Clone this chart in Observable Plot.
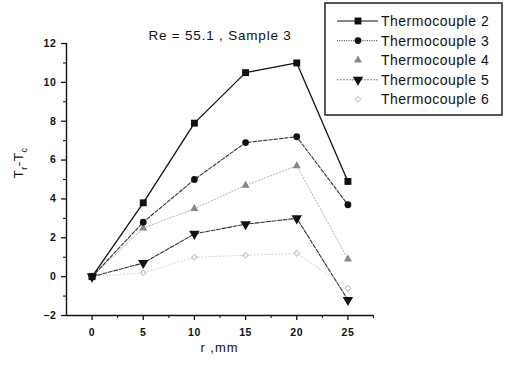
<!DOCTYPE html>
<html><head><meta charset="utf-8">
<script src="https://cdn.jsdelivr.net/npm/d3@7"></script>
<script src="https://cdn.jsdelivr.net/npm/@observablehq/plot@0.6"></script>
<style>
body{margin:0;background:#fff}
#wrap{position:relative;width:506px;height:366px;font-family:"Liberation Sans",Arial,sans-serif;color:#111}
.lbl{position:absolute;white-space:nowrap}
</style>
</head><body><div id="wrap"></div>
<script>
// ---- data ----
const radius = [0, 5, 10, 15, 20, 25];
const tc2 = [0, 3.8, 7.9, 10.5, 11.0, 4.9];
const tc3 = [0, 2.8, 5.0, 6.9, 7.2, 3.7];
const tc4 = [0, 2.5, 3.5, 4.7, 5.7, 0.9];
const tc5 = [0, 0.7, 2.2, 2.7, 3.0, -1.2];
const tc6 = [0, 0.2, 1.0, 1.1, 1.2, -0.6];
const seriesNames = ["Thermocouple 2", "Thermocouple 3", "Thermocouple 4", "Thermocouple 5", "Thermocouple 6"];
const seriesValues = [tc2, tc3, tc4, tc5, tc6];
const xTicks = [0, 5, 10, 15, 20, 25];
const xMinorTicks = [2.5, 7.5, 12.5, 17.5, 22.5, 27.5];
const yTicks = [-2, 0, 2, 4, 6, 8, 10, 12];
const yMinorTicks = [-1, 1, 3, 5, 7, 9, 11];
const titleText = "Re = 55.1 , Sample 3";
const xLabelText = "r ,mm";

// ---- styles ----
const styles = [
  {line: "#111", dash: null, lw: 1.3, symbol: "square", fill: "#111", stroke: "none", r: 3.9, rotate: 0,
   legLine: "#111", legDash: null},
  {line: "#333", dash: "3.5,1.8", lw: 1.1, symbol: "circle", fill: "#111", stroke: "none", r: 3.4, rotate: 0,
   legLine: "#555", legDash: "1,1.3"},
  {line: "#b0b0b0", dash: "1.2,2", lw: 1, symbol: "triangle", fill: "#888", stroke: "none", r: 3.0, rotate: 0,
   legLine: null, legDash: null},
  {line: "#333", dash: "4,1.6", lw: 1.1, symbol: "triangle", fill: "#111", stroke: "none", r: 3.9, rotate: 180,
   legLine: "#888", legDash: "2,1"},
  {line: "#d0d0d0", dash: "1,2.5", lw: 1, symbol: "diamond2", fill: "none", stroke: "#aaa", r: 2.6, rotate: 0,
   legLine: null, legDash: null}
];

const rows = [];
seriesValues.forEach((vals, i) => vals.forEach((v, j) => rows.push({series: seriesNames[i], idx: i, r: radius[j], v})));

const marks = [
  Plot.ruleX([-2.5], {y1: -2, y2: 12, stroke: "#111", strokeWidth: 1.4}),
  Plot.ruleY([-2], {x1: -2.5, x2: 27.5, stroke: "#111", strokeWidth: 1.4}),
  Plot.axisY(yTicks, {tickSize: 5, tickPadding: 5, fontWeight: "bold", fontSize: 10.5, strokeWidth: 1.3, label: null}),
  Plot.axisY(yMinorTicks, {tickSize: 3, tickFormat: () => "", strokeWidth: 1.1, label: null}),
  Plot.axisX(xTicks, {tickSize: 5, tickPadding: 8, fontWeight: "bold", fontSize: 10.5, strokeWidth: 1.3, label: null}),
  Plot.axisX(xMinorTicks, {tickSize: 3, tickFormat: () => "", strokeWidth: 1.1, label: null})
];
// draw lines from back (faint) to front
[4, 2, 3, 1, 0].forEach(i => {
  const s = styles[i];
  const d = rows.filter(o => o.idx === i);
  marks.push(Plot.line(d, {x: "r", y: "v", stroke: s.line, strokeWidth: s.lw, strokeDasharray: s.dash}));
});
[4, 2, 3, 1, 0].forEach(i => {
  const s = styles[i];
  const d = rows.filter(o => o.idx === i);
  marks.push(Plot.dot(d, {x: "r", y: "v", symbol: () => s.symbol, r: s.r, fill: s.fill, stroke: s.stroke,
    strokeWidth: 1, rotate: s.rotate}));
});

const chart = Plot.plot({
  width: 506, height: 366,
  marginLeft: 66, marginRight: 133, marginTop: 43, marginBottom: 51,
  x: {domain: [-2.5, 27.5], label: null},
  y: {domain: [-2, 12], label: null},
  symbol: {type: "identity"},
  style: {fontFamily: "'Liberation Sans', Arial, sans-serif", fontSize: "10.5px", color: "#111", background: "#fff", letterSpacing: "0.6px"},
  marks
});
const wrap = document.getElementById("wrap");
chart.style.position = "absolute";
chart.style.left = "0";
chart.style.top = "0";
wrap.appendChild(chart);

// title
const t = document.createElement("div");
t.className = "lbl";
t.textContent = titleText;
t.style.cssText += "left:0;width:440px;text-align:center;top:28px;font-size:13.5px;letter-spacing:0.8px;";
wrap.appendChild(t);

// x label
const xl = document.createElement("div");
xl.className = "lbl";
xl.textContent = xLabelText;
xl.style.cssText += "left:66px;width:307px;text-align:center;top:340px;font-size:13px;letter-spacing:1px;";
wrap.appendChild(xl);

// y label
const yl = document.createElement("div");
yl.className = "lbl";
yl.innerHTML = "T<sub style='font-size:9px'>r</sub>-T<sub style='font-size:9px'>c</sub>";
yl.style.cssText += "left:20px;top:163px;font-size:13.5px;transform:translate(-50%,-50%) rotate(-90deg);letter-spacing:0.5px;";
wrap.appendChild(yl);

// legend
const leg = d3.create("svg").attr("width", 180).attr("height", 115)
  .style("position", "absolute").style("left", "324px").style("top", "2px")
  .style("font-family", "'Liberation Sans', Arial, sans-serif");
leg.append("rect").attr("x", 1).attr("y", 1).attr("width", 177).attr("height", 112)
  .attr("fill", "#fff").attr("stroke", "#222").attr("stroke-width", 1.5);
const symMap = {square: d3.symbolSquare, circle: d3.symbolCircle, triangle: d3.symbolTriangle, diamond2: d3.symbolDiamond2};
seriesNames.forEach((name, i) => {
  const s = styles[i];
  const cy = 19 + i * 19.6;
  if (s.legLine) {
    leg.append("line").attr("x1", 13).attr("x2", 54).attr("y1", cy).attr("y2", cy)
      .attr("stroke", s.legLine).attr("stroke-width", 1.1).attr("stroke-dasharray", s.legDash);
  }
  leg.append("path").attr("d", d3.symbol(symMap[s.symbol], Math.PI * s.r * s.r)())
    .attr("transform", `translate(34,${cy}) rotate(${s.rotate})`)
    .attr("fill", s.fill).attr("stroke", s.stroke === "none" ? null : s.stroke).attr("stroke-width", 1);
  leg.append("text").attr("x", 57).attr("y", cy).attr("dy", "0.36em")
    .attr("font-size", 14).attr("letter-spacing", 0.5).attr("fill", "#111").text(name);
});
wrap.appendChild(leg.node());
</script>
</body></html>
